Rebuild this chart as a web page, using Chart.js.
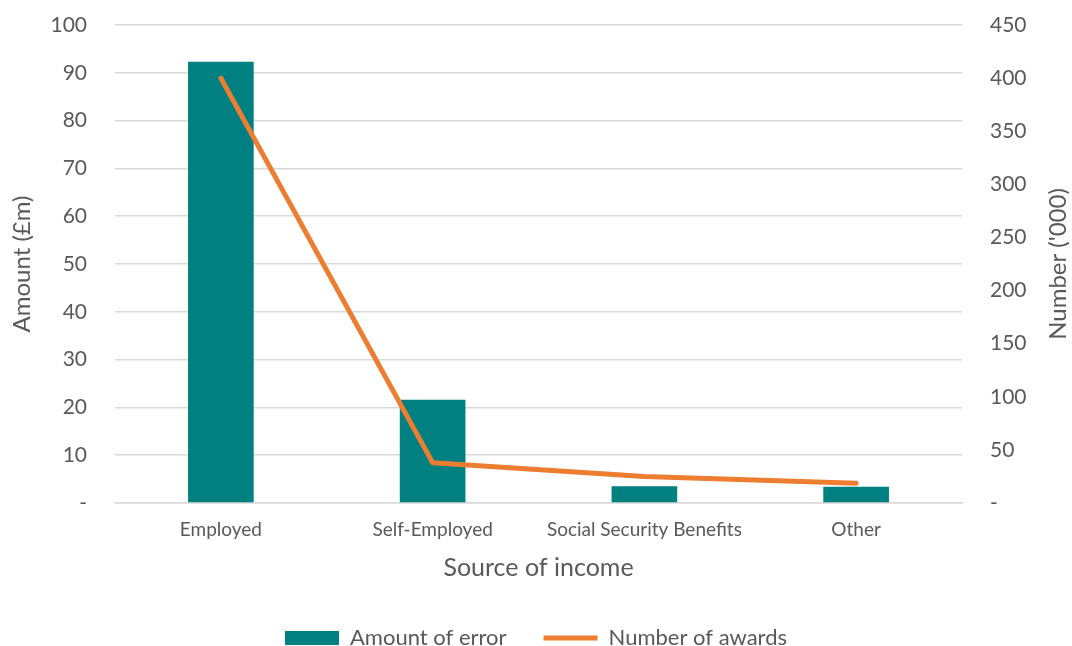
<!DOCTYPE html>
<html>
<head>
<meta charset="utf-8">
<script src="https://cdn.jsdelivr.net/npm/chart.js@4/dist/chart.umd.min.js"></script>
<style>
  html, body { margin: 0; padding: 0; background: #fff; }
  #wrap { width: 1072px; height: 646px; }
</style>
</head>
<body>
<div id="wrap"><canvas id="chart" width="1072" height="646"></canvas></div>
<script>
const categories = ["Employed", "Self-Employed", "Social Security Benefits", "Other"];
const amountOfError = [92.3, 21.6, 3.5, 3.4];      // £m
const numberOfAwards = [400, 38, 25, 18.5];        // '000
const leftTicks = [0, 10, 20, 30, 40, 50, 60, 70, 80, 90, 100];
const rightTicks = [0, 50, 100, 150, 200, 250, 300, 350, 400, 450];

const TEAL = "#008080";
const ORANGE = "#ED7D31";
const GREY = "#595959";
const GRID = "#d9d9d9";
const FONT = "Lato, 'Open Sans', sans-serif";

Chart.defaults.font.family = FONT;
Chart.defaults.color = GREY;

// zero is shown as a dash, like an accounting format
const dashZero = v => (v === 0 ? "-" : v);

// fixed axis width; the wide tick padding shouldn't push the plot down
const fitY = width => s => {
  s.width = width;
  s.paddingTop = 0;
  s.paddingBottom = 0;
};

// right-hand axis title, rotated the same way as the left one
const rightTitle = {
  id: "rightTitle",
  afterDraw(chart) {
    const { ctx, chartArea } = chart;
    const s = chart.scales.y1;
    ctx.save();
    ctx.translate(s.right - 6, (chartArea.top + chartArea.bottom) / 2);
    ctx.rotate(-Math.PI / 2);
    ctx.textAlign = "center";
    ctx.textBaseline = "middle";
    ctx.font = "24px " + FONT;
    ctx.fillStyle = GREY;
    ctx.fillText("Number ('000)", 0, 0);
    ctx.restore();
  }
};

new Chart(document.getElementById("chart"), {
  type: "bar",
  data: {
    labels: categories,
    datasets: [
      {
        label: "Amount of error",
        data: amountOfError,
        backgroundColor: TEAL,
        yAxisID: "y",
        order: 1,
        barPercentage: 0.62,
        categoryPercentage: 0.5,
        pointStyle: "rect"
      },
      {
        type: "line",
        label: "Number of awards",
        data: numberOfAwards,
        borderColor: ORANGE,
        backgroundColor: ORANGE,
        borderWidth: 5,
        borderCapStyle: "round",
        borderJoinStyle: "round",
        pointRadius: 0,
        pointStyle: "line",
        tension: 0,
        yAxisID: "y1",
        order: 0
      }
    ]
  },
  options: {
    responsive: false,
    animation: false,
    layout: { padding: { left: 8, right: 8, top: 25, bottom: -13 } },
    plugins: {
      tooltip: { enabled: false },
      legend: {
        position: "bottom",
        reverse: true,
        labels: {
          usePointStyle: true,
          pointStyleWidth: 54,
          boxHeight: 14,
          padding: 37,
          color: GREY,
          font: { size: 22 }
        }
      }
    },
    scales: {
      x: {
        grid: { display: false, drawTicks: false },
        border: { color: GRID, width: 1.5 },
        ticks: { color: GREY, font: { size: 19 }, padding: 15, maxRotation: 0 },
        title: {
          display: true,
          text: "Source of income",
          color: GREY,
          font: { size: 25 },
          padding: { top: 0, bottom: 7 }
        },
        afterFit: s => { s.height = 87; }
      },
      y: {
        position: "left",
        min: 0,
        max: 100,
        afterBuildTicks: s => { s.ticks = leftTicks.map(v => ({ value: v })); },
        grid: { color: GRID, lineWidth: 1.5, drawTicks: false },
        border: { display: false },
        ticks: { color: GREY, font: { size: 21 }, padding: 28, callback: dashZero },
        title: { display: true, text: "Amount (£m)", color: GREY, font: { size: 24 }, padding: 0 },
        afterFit: fitY(107)
      },
      y1: {
        position: "right",
        min: 0,
        max: 450,
        afterBuildTicks: s => { s.ticks = rightTicks.map(v => ({ value: v })); },
        grid: { display: false, drawTicks: false },
        border: { display: false },
        ticks: { color: GREY, font: { size: 21 }, padding: 28, callback: dashZero },
        afterFit: fitY(102)
      }
    }
  },
  plugins: [rightTitle]
});
</script>
</body>
</html>
